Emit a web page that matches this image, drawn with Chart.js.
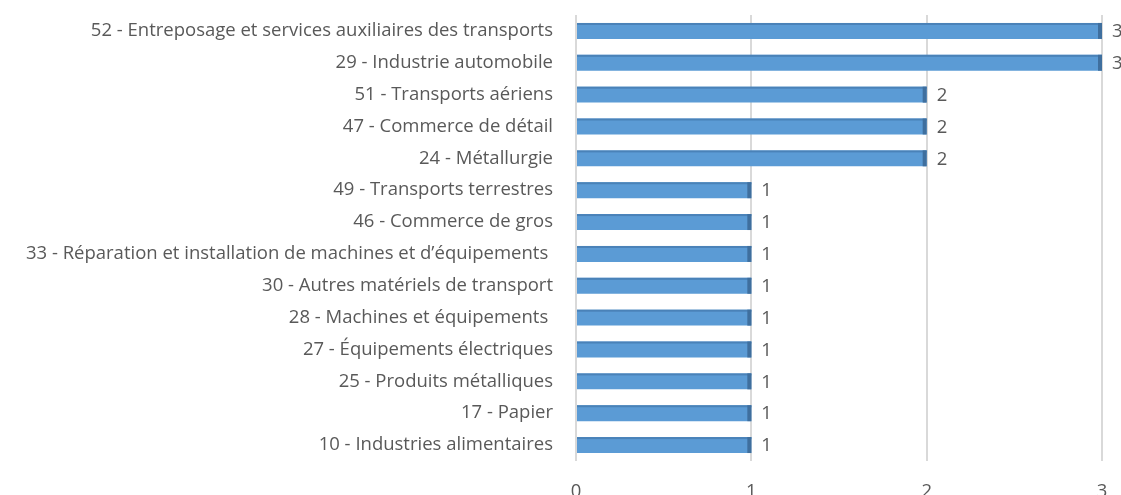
<!DOCTYPE html>
<html>
<head>
<meta charset="utf-8">
<script src="https://cdn.jsdelivr.net/npm/chart.js@4"></script>
<style>
  html, body { margin: 0; padding: 0; background: #fff; }
  #wrap { width: 1121px; height: 495px; }
</style>
</head>
<body>
<div id="wrap"><canvas id="chart" width="1121" height="495"></canvas></div>
<script>
const categories = [
    '52 - Entreposage et services auxiliaires des transports',
    '29 - Industrie automobile',
    '51 - Transports aériens',
    '47 - Commerce de détail',
    '24 - Métallurgie',
    '49 - Transports terrestres',
    '46 - Commerce de gros',
    '33 - Réparation et installation de machines et d’équipements ',
    '30 - Autres matériels de transport',
    '28 - Machines et équipements ',
    '27 - Équipements électriques',
    '25 - Produits métalliques',
    '17 - Papier',
    '10 - Industries alimentaires'
];
const counts = [3, 3, 2, 2, 2, 1, 1, 1, 1, 1, 1, 1, 1, 1];
const xTicks = [0, 1, 2, 3];

const textColor = '#595959';
const fontFamily = "'Open Sans', 'Liberation Sans', sans-serif";
const fontSize = 18.5;

// darker top edge and right side, like the excel 3d bars
const bar3d = {
    id: 'bar3d',
    afterDatasetsDraw(chart) {
        const ctx = chart.ctx;
        const meta = chart.getDatasetMeta(0);
        ctx.save();
        meta.data.forEach((bar) => {
            const top = bar.y - bar.height / 2;
            ctx.fillStyle = '#4a82b8';
            ctx.fillRect(bar.base, top, bar.x - bar.base, 2);
            ctx.fillStyle = '#3f6f9e';
            ctx.fillRect(bar.x - 4, top, 4, bar.height);
        });
        ctx.restore();
    }
};

const valueLabels = {
    id: 'valueLabels',
    afterDatasetsDraw(chart) {
        const ctx = chart.ctx;
        const meta = chart.getDatasetMeta(0);
        ctx.save();
        ctx.font = fontSize + 'px ' + fontFamily;
        ctx.fillStyle = textColor;
        ctx.textBaseline = 'middle';
        ctx.textAlign = 'left';
        meta.data.forEach((bar, i) => {
            ctx.fillText(String(counts[i]), bar.x + 10, bar.y + 1);
        });
        ctx.restore();
    }
};

const chart = new Chart(document.getElementById('chart'), {
    type: 'bar',
    data: {
        labels: categories,
        datasets: [{
            data: counts,
            backgroundColor: '#5b9bd5',
            borderWidth: 0,
            categoryPercentage: 1,
            barPercentage: 0.5
        }]
    },
    options: {
        indexAxis: 'y',
        responsive: false,
        animation: false,
        devicePixelRatio: 1,
        layout: { padding: { top: 15, right: 19, left: 0, bottom: 0 } },
        plugins: {
            legend: { display: false },
            tooltip: { enabled: false }
        },
        scales: {
            x: {
                min: 0,
                max: 3,
                afterBuildTicks: (axis) => { axis.ticks = xTicks.map(v => ({ value: v })); },
                grid: { color: '#d9d9d9', lineWidth: 2, drawTicks: false },
                border: { display: false },
                ticks: {
                    color: textColor,
                    font: { family: fontFamily, size: fontSize },
                    padding: 20
                },
                afterFit: (axis) => {
                    axis.height = 34;
                    axis.paddingRight = 0;
                    axis.paddingLeft = 0;
                }
            },
            y: {
                grid: { display: false },
                border: { display: false },
                ticks: {
                    color: textColor,
                    font: { family: fontFamily, size: fontSize },
                    padding: 15,
                    autoSkip: false
                },
                afterFit: (axis) => {
                    axis.width = 576;
                    axis.paddingTop = 0;
                    axis.paddingBottom = 0;
                }
            }
        }
    },
    plugins: [bar3d, valueLabels]
});
</script>
</body>
</html>
